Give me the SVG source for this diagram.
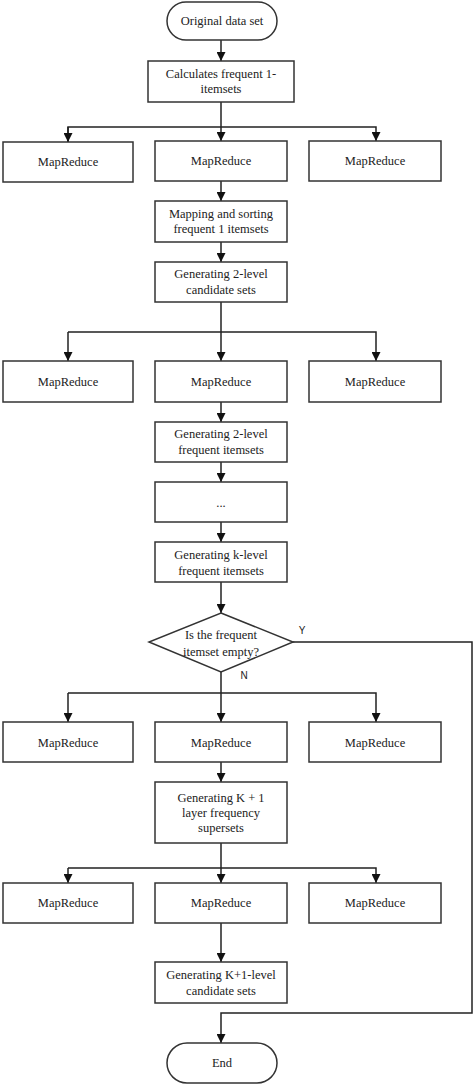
<svg xmlns="http://www.w3.org/2000/svg" width="474" height="1085" viewBox="0 0 474 1085">
<style>
.box{fill:#fff;stroke:#333;stroke-width:1.5}
.t{font-family:"Liberation Serif","Times New Roman",serif;font-size:12.5px;fill:#222;text-anchor:middle;dominant-baseline:central}
.lbl{font-family:"Liberation Sans",Arial,sans-serif;font-size:10px;fill:#222;text-anchor:middle;dominant-baseline:central}
.c{fill:none;stroke:#222;stroke-width:1.5}
</style>
<defs>
<marker id="ah" viewBox="0 0 10 10" refX="10" refY="5" markerWidth="9" markerHeight="9" markerUnits="userSpaceOnUse" orient="auto">
<path d="M0,0 L10,5 L0,10 z" fill="#111"/>
</marker>
</defs>
<rect width="474" height="1085" fill="#fff"/>
<g id="connectors">
<line class="c" x1="221" y1="40" x2="221" y2="61" marker-end="url(#ah)"/>
<line class="c" x1="221" y1="102" x2="221" y2="141" marker-end="url(#ah)"/>
<polyline class="c" points="68,142 68,127 376,127 376,141" marker-end="url(#ah)"/>
<line class="c" x1="68" y1="127" x2="68" y2="142" marker-end="url(#ah)"/>
<line class="c" x1="221" y1="181" x2="221" y2="201" marker-end="url(#ah)"/>
<line class="c" x1="221" y1="242" x2="221" y2="262" marker-end="url(#ah)"/>
<line class="c" x1="221" y1="302" x2="221" y2="361" marker-end="url(#ah)"/>
<polyline class="c" points="68,332 376,332 376,361" marker-end="url(#ah)"/>
<line class="c" x1="68" y1="332" x2="68" y2="361" marker-end="url(#ah)"/>
<line class="c" x1="221" y1="402" x2="221" y2="422" marker-end="url(#ah)"/>
<line class="c" x1="221" y1="462" x2="221" y2="482" marker-end="url(#ah)"/>
<line class="c" x1="221" y1="522" x2="221" y2="542" marker-end="url(#ah)"/>
<line class="c" x1="221" y1="582" x2="221" y2="613" marker-end="url(#ah)"/>
<line class="c" x1="221" y1="672" x2="221" y2="722" marker-end="url(#ah)"/>
<polyline class="c" points="68,693 376,693 376,722" marker-end="url(#ah)"/>
<line class="c" x1="68" y1="693" x2="68" y2="722" marker-end="url(#ah)"/>
<line class="c" x1="221" y1="762" x2="221" y2="782" marker-end="url(#ah)"/>
<line class="c" x1="221" y1="843" x2="221" y2="883" marker-end="url(#ah)"/>
<polyline class="c" points="68,868 376,868 376,883" marker-end="url(#ah)"/>
<line class="c" x1="68" y1="868" x2="68" y2="883" marker-end="url(#ah)"/>
<line class="c" x1="221" y1="923" x2="221" y2="962" marker-end="url(#ah)"/>
<polyline class="c" points="293,642 472,642 472,1013 221,1013 221,1043" marker-end="url(#ah)"/>
<text class="lbl" x="302" y="630">Y</text>
<text class="lbl" x="244" y="675">N</text>
</g>
<g id="start"><rect class="box" x="167" y="2" width="110" height="38" rx="19"/><text class="t" x="222" y="21">Original data set</text></g>
<g id="calc1"><rect class="box" x="148" y="61" width="146" height="41"/><text class="t" x="221" y="74">Calculates frequent 1-</text><text class="t" x="221" y="89">itemsets</text></g>
<g id="mr1a"><rect class="box" x="3" y="142" width="130" height="40"/><text class="t" x="68" y="162">MapReduce</text></g>
<g id="mr1b"><rect class="box" x="155" y="141" width="132" height="40"/><text class="t" x="221" y="161">MapReduce</text></g>
<g id="mr1c"><rect class="box" x="309" y="141" width="132" height="40"/><text class="t" x="375" y="161">MapReduce</text></g>
<g id="mapsort"><rect class="box" x="155" y="201" width="132" height="41"/><text class="t" x="221" y="214">Mapping and sorting</text><text class="t" x="221" y="229">frequent 1 itemsets</text></g>
<g id="gen2c"><rect class="box" x="155" y="262" width="132" height="40"/><text class="t" x="221" y="274">Generating 2-level</text><text class="t" x="221" y="290">candidate sets</text></g>
<g id="mr2a"><rect class="box" x="3" y="361" width="130" height="41"/><text class="t" x="68" y="382">MapReduce</text></g>
<g id="mr2b"><rect class="box" x="155" y="361" width="132" height="41"/><text class="t" x="221" y="382">MapReduce</text></g>
<g id="mr2c"><rect class="box" x="309" y="361" width="132" height="41"/><text class="t" x="375" y="382">MapReduce</text></g>
<g id="gen2f"><rect class="box" x="155" y="422" width="132" height="40"/><text class="t" x="221" y="434">Generating 2-level</text><text class="t" x="221" y="450">frequent itemsets</text></g>
<g id="dots"><rect class="box" x="155" y="482" width="132" height="40"/><text class="t" x="221" y="503">...</text></g>
<g id="genk"><rect class="box" x="155" y="542" width="132" height="40"/><text class="t" x="221" y="555">Generating k-level</text><text class="t" x="221" y="571">frequent itemsets</text></g>
<g id="decision"><polygon class="box" points="221,613 293,642 221,672 149,642"/><text class="t" x="221" y="635">Is the frequent</text><text class="t" x="221" y="652">itemset empty?</text></g>
<g id="mr3a"><rect class="box" x="3" y="722" width="130" height="40"/><text class="t" x="68" y="743">MapReduce</text></g>
<g id="mr3b"><rect class="box" x="155" y="722" width="132" height="40"/><text class="t" x="221" y="743">MapReduce</text></g>
<g id="mr3c"><rect class="box" x="309" y="722" width="132" height="40"/><text class="t" x="375" y="743">MapReduce</text></g>
<g id="genk1"><rect class="box" x="155" y="782" width="132" height="61"/><text class="t" x="221" y="798">Generating K + 1</text><text class="t" x="221" y="813">layer frequency</text><text class="t" x="221" y="828">supersets</text></g>
<g id="mr4a"><rect class="box" x="3" y="883" width="130" height="40"/><text class="t" x="68" y="903">MapReduce</text></g>
<g id="mr4b"><rect class="box" x="155" y="883" width="132" height="40"/><text class="t" x="221" y="903">MapReduce</text></g>
<g id="mr4c"><rect class="box" x="309" y="883" width="132" height="40"/><text class="t" x="375" y="903">MapReduce</text></g>
<g id="genk1c"><rect class="box" x="155" y="962" width="132" height="41"/><text class="t" x="221" y="975">Generating K+1-level</text><text class="t" x="221" y="991">candidate sets</text></g>
<g id="end"><rect class="box" x="167" y="1043" width="110" height="40" rx="20"/><text class="t" x="222" y="1063">End</text></g>
</svg>
